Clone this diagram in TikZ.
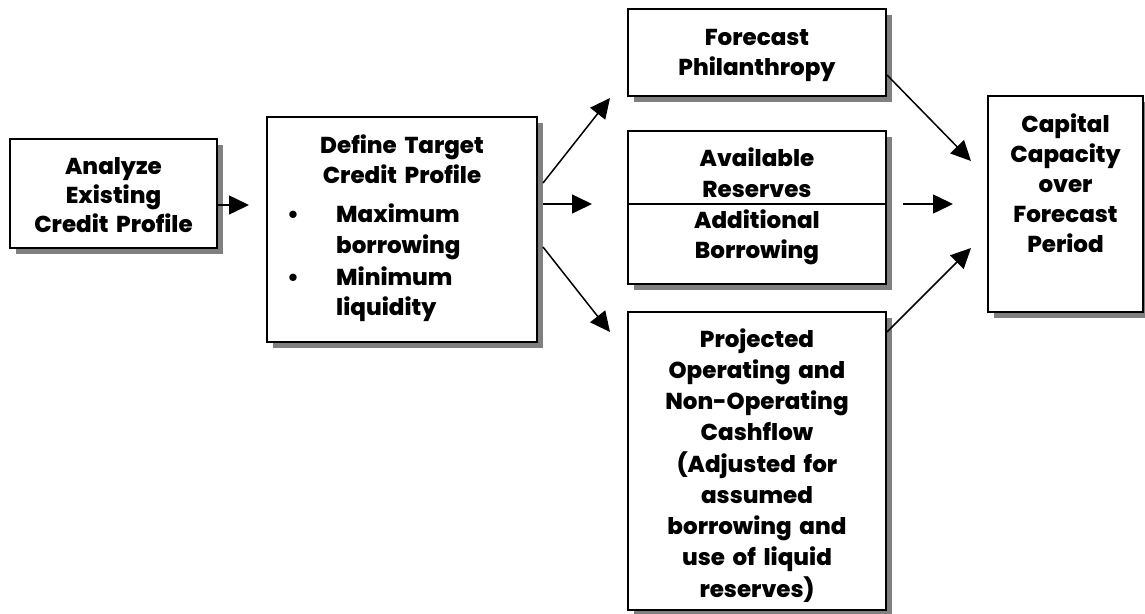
\documentclass[tikz,border=0pt]{standalone}
\usepackage{fontspec}
\setmainfont{Poppins}[BoldFont={Poppins ExtraBold}]
\usetikzlibrary{arrows.meta,shadows}
\begin{document}
\begin{tikzpicture}[x=1pt,y=-1pt,
  box/.style={draw, line width=2pt, fill=white, rectangle, inner sep=0pt,
    drop shadow={shadow xshift=6pt, shadow yshift=-6pt, fill=black!50, opacity=1}},
  txt/.style={inner sep=0pt, align=center, anchor=base, font=\bfseries\fontsize{23}{30}\selectfont},
  arr/.style={line width=1.5pt, -{Triangle[length=20pt,width=19pt]}}
]
\useasboundingbox (0,0) rectangle (1145,613);
% boxes
\node[box, minimum width=207pt, minimum height=109pt] (A) at (113.5,193.5) {};
\node[box, minimum width=270pt, minimum height=225pt] (B) at (402,229.5) {};
\node[box, minimum width=258pt, minimum height=87pt] (C) at (757,52.5) {};
\node[box, minimum width=258pt, minimum height=153pt] (D) at (757,207.5) {};
\node[box, minimum width=155pt, minimum height=216pt] (E) at (1065.5,204) {};
\node[box, minimum width=258pt, minimum height=298pt] (F) at (757,461) {};
\draw[line width=1.5pt] ([yshift=3.5pt]D.west) -- ([yshift=3.5pt]D.east);
% texts
\node[txt, text width=200pt, font=\bfseries\fontsize{23}{29}\selectfont] (tA) at (113.5,174) {Analyze\\Existing\\Credit Profile};
\node[txt, text width=250pt] (tB) at (402,153) {Define Target\\Credit Profile};
\node[txt] (b1) at (293,222) {•};
\node[txt] (b2) at (293,285) {•};
\node[txt, text width=190pt, align=left, anchor=base west, font=\bfseries\fontsize{23}{31}\selectfont] (i1) at (336,222) {Maximum\\borrowing};
\node[txt, text width=190pt, align=left, anchor=base west, font=\bfseries\fontsize{23}{30}\selectfont] (i2) at (336,285) {Minimum\\liquidity};
\node[txt, text width=250pt] (tC) at (757,45) {Forecast\\Philanthropy};
\node[txt, text width=250pt, font=\bfseries\fontsize{23}{31}\selectfont] (tD1) at (757,166) {Available\\Reserves};
\node[txt, text width=250pt] (tD2) at (757,228) {Additional\\Borrowing};
\node[txt, text width=150pt] (tE) at (1065.5,132) {Capital\\Capacity\\over\\Forecast\\Period};
\node[txt, text width=250pt, font=\bfseries\fontsize{23}{31.25}\selectfont] (tF) at (757,347) {Projected\\Operating and\\Non-Operating\\Cashflow\\(Adjusted for\\assumed\\borrowing and\\use of liquid\\reserves)};
% connectors
\draw[arr] ([yshift=-11.5pt]A.east) -- ([xshift=-17pt,yshift=24.5pt]B.west);
\draw[arr] ([xshift=5pt,yshift=46.5pt]B.east) -- ([xshift=-17pt,yshift=-1pt]C.south west);
\draw[arr] ([xshift=5pt,yshift=25.5pt]B.east) -- ([xshift=-35pt,yshift=3.5pt]D.west);
\draw[arr] ([xshift=5pt,yshift=-17.5pt]B.east) -- ([xshift=-17pt,yshift=-21pt]F.north west);
\draw[arr] ([yshift=-22.5pt]C.east) -- ([xshift=-16pt,yshift=43pt]E.west);
\draw[arr] ([xshift=16pt,yshift=3.5pt]D.east) -- ([xshift=-34pt]E.west);
\draw[arr] ([yshift=-21pt]F.north east) -- ([xshift=-16pt,yshift=-44pt]E.west);
\end{tikzpicture}
\end{document}
